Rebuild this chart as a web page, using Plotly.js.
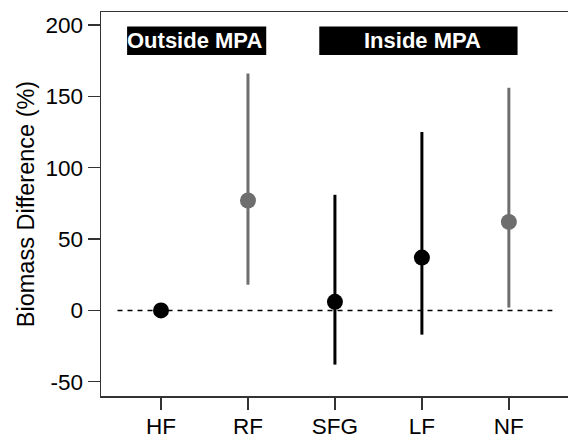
<!DOCTYPE html>
<html>
<head>
<meta charset="utf-8">
<script src="https://cdn.plot.ly/plotly-3.0.1.min.js"></script>
<style>html,body{margin:0;padding:0;background:#fff;}#chart{width:568px;height:440px;}</style>
</head>
<body>
<div id="chart"></div>
<script>
var categories = ['HF', 'RF', 'SFG', 'LF', 'NF'];
var means = [0, 77, 6, 37, 62];
var upper = [0, 166, 81, 125, 156];
var lower = [0, 18, -38, -17, 2];
var groupColor = ['#000000', '#6e6e6e', '#000000', '#000000', '#6e6e6e'];
var yTicks = [-50, 0, 50, 100, 150, 200];
var yTickText = ['-50', '0', '50', '100', '150', '200'];
var groupLabels = ['Outside MPA', 'Inside MPA'];

var traces = [];
categories.forEach(function (c, i) {
  traces.push({
    type: 'scatter', mode: 'markers',
    x: [i], y: [means[i]],
    marker: {size: 16, color: groupColor[i]},
    error_y: {type: 'data', symmetric: false,
      array: [upper[i] - means[i]], arrayminus: [means[i] - lower[i]],
      color: groupColor[i], thickness: 3, width: 0, visible: true},
    hoverinfo: 'skip', showlegend: false, cliponaxis: false
  });
});

var layout = {
  width: 568, height: 440,
  margin: {l: 101, r: 0, t: 12, b: 44},
  paper_bgcolor: '#fff', plot_bgcolor: '#fff',
  font: {family: 'Liberation Sans, Arial, sans-serif', color: '#000', size: 22},
  showlegend: false,
  xaxis: {
    range: [-0.69, 4.68], tickvals: [0, 1, 2, 3, 4], ticktext: categories,
    showgrid: false, zeroline: false, showline: true, mirror: true,
    linecolor: '#333', linewidth: 1.5, ticks: 'outside', ticklen: 12,
    tickwidth: 1.5, tickcolor: '#333', tickfont: {size: 22.5}, ticklabelstandoff: -3
  },
  yaxis: {
    range: [-60, 209.1], tickvals: yTicks, ticktext: yTickText,
    showgrid: false, zeroline: false, showline: true,
    linecolor: '#333', linewidth: 1.5, ticks: 'outside', ticklen: 12,
    tickwidth: 1.5, tickcolor: '#333', tickfont: {size: 22.5},
    title: {text: 'Biomass Difference (%)', font: {size: 23.5}, standoff: 4}
  },
  shapes: [
    {type: 'line', xref: 'x', yref: 'y', x0: -0.5, x1: 4.5, y0: 0, y1: 0,
     line: {color: '#000', width: 1.5, dash: '5px,5px'}, layer: 'below'},
    {type: 'rect', xref: 'x', yref: 'y', x0: -0.39, x1: 1.21, y0: 179, y1: 199,
     fillcolor: '#000', line: {width: 0}},
    {type: 'rect', xref: 'x', yref: 'y', x0: 1.82, x1: 4.10, y0: 179, y1: 199,
     fillcolor: '#000', line: {width: 0}}
  ],
  annotations: [
    {xref: 'x', yref: 'y', x: 0.39, y: 189, text: '<b>' + groupLabels[0] + '</b>',
     showarrow: false, font: {size: 22, color: '#fff'}, xanchor: 'center', yanchor: 'middle'},
    {xref: 'x', yref: 'y', x: 3.01, y: 189, text: '<b>' + groupLabels[1] + '</b>',
     showarrow: false, font: {size: 22, color: '#fff'}, xanchor: 'center', yanchor: 'middle'}
  ]
};

Plotly.newPlot('chart', traces, layout, {displayModeBar: false, staticPlot: true});
</script>
</body>
</html>
